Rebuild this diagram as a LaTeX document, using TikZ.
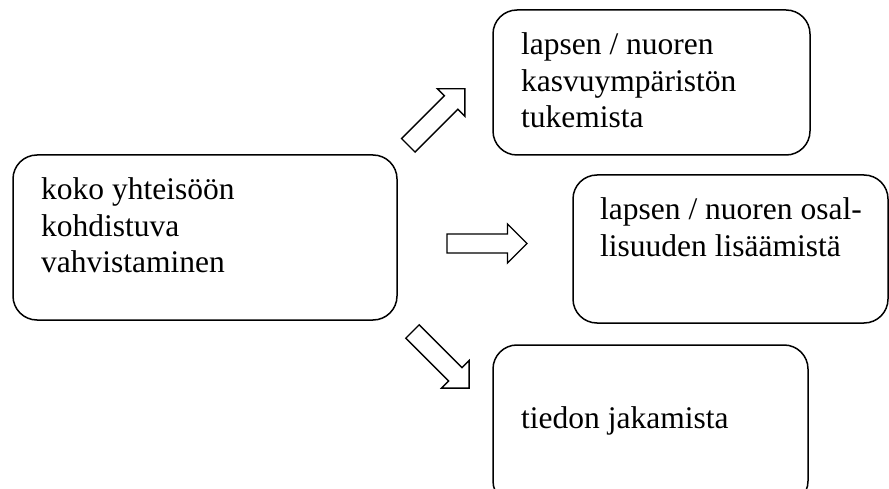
\documentclass[tikz,border=0pt]{standalone}
\usepackage{fontspec}
\setmainfont{Liberation Serif}
\begin{document}
\begin{tikzpicture}[x=1pt,y=1pt,
  box/.style={draw=black, line width=1.5pt, rounded corners=24pt, inner sep=0pt},
  txt/.style={inner sep=0pt, align=left, anchor=base west,
    font=\fontsize{31.5}{36.5}\selectfont},
  arrowline/.style={draw=black, fill=white, line width=1.4pt, line join=miter},
  pics/blockarrow/.style={code={
    \draw[arrowline] (0,-9.5) -- (60.5,-9.5) -- (60.5,-19.5) -- (80,0)
      -- (60.5,19.5) -- (60.5,9.5) -- (0,9.5) -- cycle;
  }}]
\useasboundingbox (0,0) rectangle (889,488);
\begin{scope}
\clip (0,0) rectangle (889,488);
% boxes
\node[box, minimum width=384pt, minimum height=165pt] (koko) at (205,250.5) {};
\node[box, minimum width=317pt, minimum height=145pt] (kasvu) at (651.5,405.5) {};
\node[box, minimum width=315pt, minimum height=148pt] (osal) at (730.5,239) {};
\node[box, minimum width=315pt, minimum height=160pt] (tieto) at (650.5,63) {};
\end{scope}
% texts, placed by the baseline of their last line
\node[txt] (kokoT) at (41,215) {koko yhteisöön\\kohdistuva\\vahvistaminen};
\node[txt] (kasvuT) at (521,360) {lapsen / nuoren\\kasvuympäristön\\tukemista};
\node[txt] (osalT) at (600,232) {lapsen / nuoren osal-\\lisuuden lisäämistä};
\node[txt] (tietoT) at (521,60) {tiedon jakamista};
% block arrows from the central box outwards
\coordinate (a1) at (408.3,342.7);
\coordinate (a2) at (447,244.5);
\coordinate (a3) at (412.5,156.5);
\pic[rotate=45] at (a1) {blockarrow};
\pic at (a2) {blockarrow};
\pic[rotate=-45] at (a3) {blockarrow};
\end{tikzpicture}
\end{document}
